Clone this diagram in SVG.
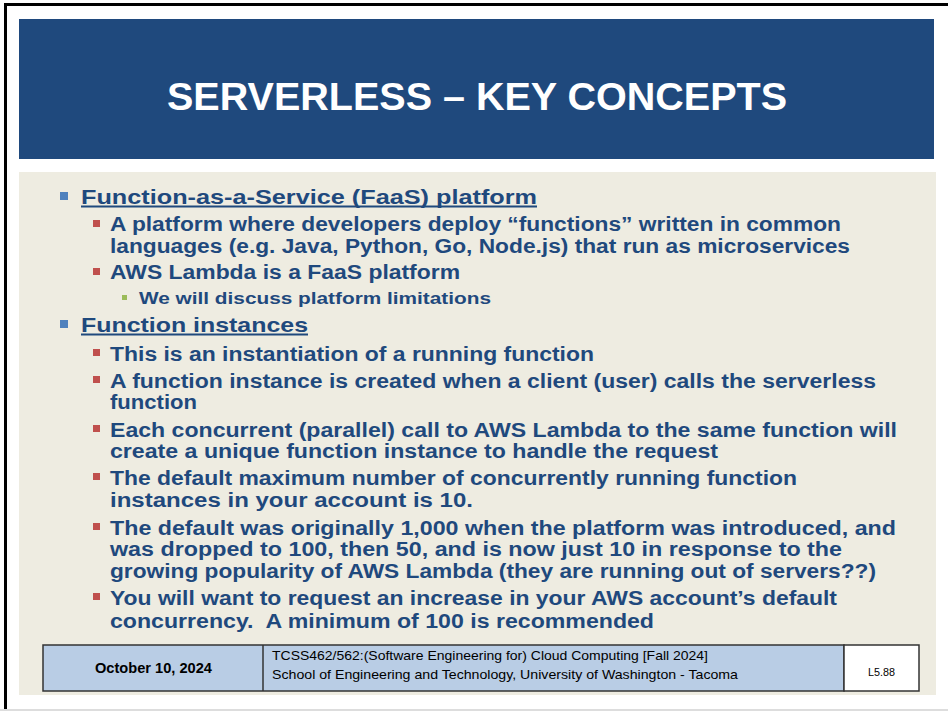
<svg xmlns="http://www.w3.org/2000/svg" width="948" height="712" viewBox="0 0 948 712">
<style>
.b{font-family:"Liberation Sans",Arial,sans-serif;font-weight:bold;fill:#1F497D}
.l1{font-size:21px}
.l2{font-size:20px}
.l3{font-size:16px}
.ft{font-family:"Liberation Sans",Arial,sans-serif;fill:#000}
.ul{fill:#1F497D}
.bb{fill:#4F81BD}
.rb{fill:#C0504D}
.gb{fill:#9BBB59}
</style>
<rect x="0" y="0" width="948" height="712" fill="#FFFFFF"/>
<g id="frame">
<rect x="4" y="3" width="944" height="3" fill="#000"/>
<rect x="4" y="3" width="3" height="706" fill="#000"/>
<rect x="0" y="709" width="948" height="2" fill="#DDDDDD"/>
</g>
<g id="header">
<rect x="19" y="19" width="915" height="140" fill="#1F497D"/>
<text x="167" y="110" font-family="Liberation Sans, Arial, sans-serif" font-weight="bold" font-size="39" fill="#FFFFFF" textLength="620" lengthAdjust="spacingAndGlyphs">SERVERLESS – KEY CONCEPTS</text>
</g>
<g id="content">
<rect x="19" y="172" width="917" height="523" fill="#EEECE1"/>
<rect class="bb" x="60" y="192" width="8" height="8"/>
<text class="b l1" x="81" y="204" textLength="456" lengthAdjust="spacingAndGlyphs">Function-as-a-Service (FaaS) platform</text>
<rect class="ul" x="81" y="205.5" width="456" height="2"/>
<rect class="rb" x="93" y="220" width="7" height="7"/>
<text class="b l2" x="110" y="231" textLength="731" lengthAdjust="spacingAndGlyphs">A platform where developers deploy “functions” written in common</text>
<text class="b l2" x="110" y="253" textLength="740" lengthAdjust="spacingAndGlyphs">languages (e.g. Java, Python, Go, Node.js) that run as microservices</text>
<rect class="rb" x="93" y="268" width="7" height="7"/>
<text class="b l2" x="110" y="279" textLength="350" lengthAdjust="spacingAndGlyphs">AWS Lambda is a FaaS platform</text>
<rect class="gb" x="122" y="295" width="5" height="5"/>
<text class="b l3" x="139" y="304" textLength="352" lengthAdjust="spacingAndGlyphs">We will discuss platform limitations</text>
<rect class="bb" x="60" y="320" width="8" height="8"/>
<text class="b l1" x="81" y="332" textLength="227" lengthAdjust="spacingAndGlyphs">Function instances</text>
<rect class="ul" x="81" y="333.5" width="227" height="2"/>
<rect class="rb" x="93" y="349" width="7" height="7"/>
<text class="b l2" x="110" y="361" textLength="484" lengthAdjust="spacingAndGlyphs">This is an instantiation of a running function</text>
<rect class="rb" x="93" y="376" width="7" height="7"/>
<text class="b l2" x="110" y="388" textLength="766" lengthAdjust="spacingAndGlyphs">A function instance is created when a client (user) calls the serverless</text>
<text class="b l2" x="110" y="409" textLength="87" lengthAdjust="spacingAndGlyphs">function</text>
<rect class="rb" x="93" y="425" width="7" height="7"/>
<text class="b l2" x="110" y="437" textLength="787" lengthAdjust="spacingAndGlyphs">Each concurrent (parallel) call to AWS Lambda to the same function will</text>
<text class="b l2" x="110" y="458" textLength="608" lengthAdjust="spacingAndGlyphs">create a unique function instance to handle the request</text>
<rect class="rb" x="93" y="473" width="7" height="7"/>
<text class="b l2" x="110" y="485" textLength="687" lengthAdjust="spacingAndGlyphs">The default maximum number of concurrently running function</text>
<text class="b l2" x="110" y="507" textLength="363" lengthAdjust="spacingAndGlyphs">instances in your account is 10.</text>
<rect class="rb" x="93" y="523" width="7" height="7"/>
<text class="b l2" x="110" y="535" textLength="786" lengthAdjust="spacingAndGlyphs">The default was originally 1,000 when the platform was introduced, and</text>
<text class="b l2" x="110" y="556" textLength="732" lengthAdjust="spacingAndGlyphs">was dropped to 100, then 50, and is now just 10 in response to the</text>
<text class="b l2" x="110" y="578" textLength="766" lengthAdjust="spacingAndGlyphs">growing popularity of AWS Lambda (they are running out of servers??)</text>
<rect class="rb" x="93" y="593" width="7" height="7"/>
<text class="b l2" x="110" y="605" textLength="727" lengthAdjust="spacingAndGlyphs">You will want to request an increase in your AWS account’s default</text>
<text class="b l2" x="110" y="628" textLength="544" lengthAdjust="spacingAndGlyphs" style="white-space:pre">concurrency.  A minimum of 100 is recommended</text>
</g>
<g id="footer">
<rect x="43" y="645" width="801" height="46" fill="#B9CDE5" stroke="#333333" stroke-width="1.5"/>
<rect x="844" y="645" width="75" height="46" fill="#FFFFFF" stroke="#333333" stroke-width="1.5"/>
<line x1="263" y1="645" x2="263" y2="691" stroke="#333333" stroke-width="1.5"/>
<text class="ft" x="95" y="673" font-size="15" font-weight="bold" textLength="117" lengthAdjust="spacingAndGlyphs">October 10, 2024</text>
<text class="ft" x="272" y="660" font-size="13" textLength="436" lengthAdjust="spacingAndGlyphs">TCSS462/562:(Software Engineering for) Cloud Computing [Fall 2024]</text>
<text class="ft" x="272" y="679" font-size="13" textLength="466" lengthAdjust="spacingAndGlyphs">School of Engineering and Technology, University of Washington - Tacoma</text>
<text class="ft" x="868" y="676" font-size="11" textLength="27" lengthAdjust="spacingAndGlyphs">L5.88</text>
</g>
</svg>
